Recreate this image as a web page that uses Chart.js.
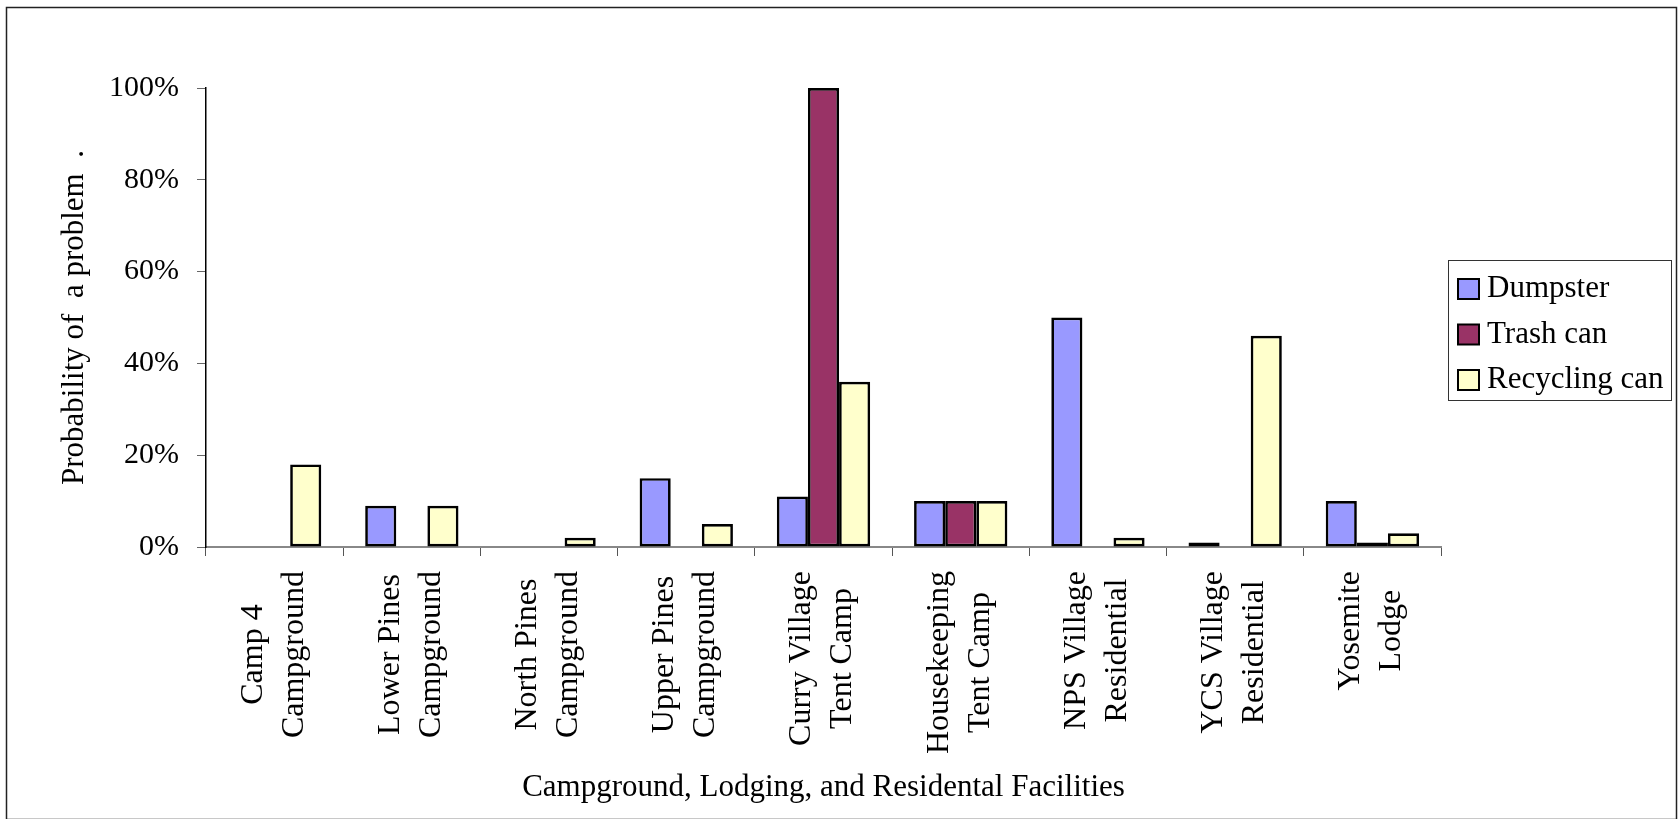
<!DOCTYPE html>
<html>
<head>
<meta charset="utf-8">
<title>Probability of a problem by facility</title>
<script src="https://cdn.jsdelivr.net/npm/chart.js@4.4.1/dist/chart.umd.min.js"></script>
<style>
  html, body { margin: 0; padding: 0; background: #fff; }
  canvas { display: block; }
</style>
</head>
<body>
<canvas id="chart" width="1679" height="819"></canvas>
<script>
// facilities along the x axis (each entry is one label, split over two lines)
const categories = [
  ['Camp 4', 'Campground'],
  ['Lower Pines', 'Campground'],
  ['North Pines', 'Campground'],
  ['Upper Pines', 'Campground'],
  ['Curry Village', 'Tent Camp'],
  ['Housekeeping', 'Tent Camp'],
  ['NPS Village', 'Residential'],
  ['YCS Village', 'Residential'],
  ['Yosemite', 'Lodge']
];

// probability of a problem, in percent
const dumpster     = [0, 9, 0, 15, 11, 10, 50, 1, 10];
const trashCan     = [0, 0, 0, 0, 100, 10, 0, 0, 1];
const recyclingCan = [18, 9, 2, 5, 36, 10, 2, 46, 3];

const seriesNames = ['Dumpster', 'Trash can', 'Recycling can'];
const seriesColors = ['#9999FF', '#993366', '#FFFFCC'];

const FONT = '"Liberation Serif", "Times New Roman", Times, serif';

// rotated category labels, lines centred on each other
const categoryLabels = {
  id: 'categoryLabels',
  afterDraw(chart) {
    const ctx = chart.ctx;
    const x = chart.scales.x;
    const top = chart.chartArea.bottom + 24;
    const lineGap = 41;
    ctx.save();
    ctx.font = '32px ' + FONT;
    ctx.fillStyle = '#000';
    ctx.textAlign = 'center';
    ctx.textBaseline = 'middle';
    categories.forEach((lines, i) => {
      const cx = x.getPixelForValue(i);
      const longest = Math.max(...lines.map(l => ctx.measureText(l).width));
      ctx.save();
      ctx.translate(cx - 1, top + longest / 2);
      ctx.rotate(-Math.PI / 2);
      lines.forEach((line, k) => {
        ctx.fillText(line, 0, (k - (lines.length - 1) / 2) * lineGap);
      });
      ctx.restore();
    });
    ctx.restore();
  }
};

// boxed legend to the right of the plot, plus the outer frame
const boxedLegend = {
  id: 'boxedLegend',
  afterDraw(chart) {
    const ctx = chart.ctx;
    ctx.save();
    ctx.strokeStyle = '#222';
    ctx.lineWidth = 1.5;
    ctx.strokeRect(6.5, 7.5, 1670, 812);

    ctx.lineWidth = 1;
    ctx.strokeStyle = '#333';
    ctx.strokeRect(1448.5, 260.5, 223, 140);

    ctx.font = '31px ' + FONT;
    ctx.textBaseline = 'middle';
    ctx.textAlign = 'left';
    chart.data.datasets.forEach((ds, i) => {
      const cy = 288 + i * 45.5;
      ctx.fillStyle = ds.backgroundColor;
      ctx.fillRect(1458, cy - 9, 21, 20);
      ctx.lineWidth = 2;
      ctx.strokeStyle = '#000';
      ctx.strokeRect(1458, cy - 9, 21, 20);
      ctx.fillStyle = '#000';
      ctx.fillText(ds.label, 1487, cy + 1);
    });
    ctx.restore();
  }
};

const values = [dumpster, trashCan, recyclingCan];

new Chart(document.getElementById('chart'), {
  type: 'bar',
  data: {
    labels: categories,
    datasets: values.map((data, i) => ({
      label: seriesNames[i],
      data: data,
      backgroundColor: seriesColors[i],
      borderColor: '#000',
      borderWidth: 2.7,
      borderSkipped: false,
      categoryPercentage: 0.68,
      barPercentage: 1
    }))
  },
  options: {
    responsive: false,
    animation: false,
    layout: {
      padding: { left: 0, top: 88, right: 238, bottom: 0 }
    },
    plugins: {
      legend: { display: false },
      tooltip: { enabled: false }
    },
    scales: {
      x: {
        afterFit(scale) { scale.height = 272; },
        grid: {
          display: true,
          offset: true,
          drawOnChartArea: false,
          drawTicks: true,
          tickLength: 9,
          color: '#555',
          lineWidth: 1
        },
        border: { display: true, color: '#888', width: 2 },
        ticks: { display: false },
        title: {
          display: true,
          text: 'Campground, Lodging, and Residental Facilities',
          color: '#000',
          font: { family: FONT, size: 31 },
          padding: { top: 0, bottom: 13 }
        }
      },
      y: {
        min: 0,
        max: 100,
        afterFit(scale) { scale.width = 206; },
        ticks: {
          stepSize: 20,
          padding: 18,
          color: '#000',
          font: { family: FONT, size: 30 },
          callback: v => v + '%'
        },
        grid: {
          display: true,
          drawOnChartArea: false,
          drawTicks: true,
          tickLength: 9,
          color: '#666',
          lineWidth: 1
        },
        border: { display: true, color: '#000', width: 1.5 },
        title: {
          display: true,
          text: 'Probability of  a problem  .',
          color: '#000',
          font: { family: FONT, size: 31 },
          padding: { top: 56, bottom: 0 }
        }
      }
    }
  },
  plugins: [categoryLabels, boxedLegend]
});
</script>
</body>
</html>
